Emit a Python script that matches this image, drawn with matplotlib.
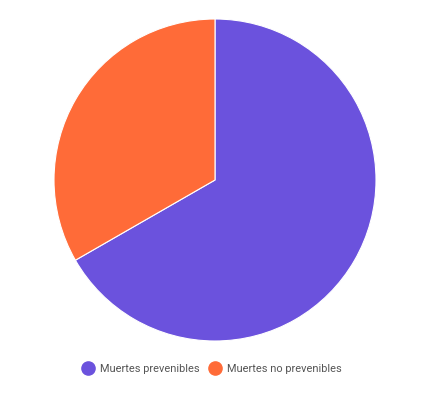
import matplotlib.pyplot as plt
from matplotlib.lines import Line2D

# Datos
labels = ['Muertes prevenibles', 'Muertes no prevenibles']
values = [66.7, 33.3]
colors = ['#6B52DD', '#FF6B38']

plt.rcParams['font.family'] = ['Roboto', 'DejaVu Sans']

fig = plt.figure(figsize=(4.3, 4.0), dpi=100)
ax = fig.add_axes([54 / 430, 59 / 400, 322 / 430, 322 / 400])
ax.pie(values, colors=colors, startangle=90, counterclock=False,
       wedgeprops=dict(edgecolor='white', linewidth=0.8))
ax.set_xlim(-1, 1)
ax.set_ylim(-1, 1)
ax.set_aspect('equal')

# Leyenda
handles = [Line2D([0], [0], marker='o', linestyle='', markersize=9.5,
                  markerfacecolor=c, markeredgecolor=c) for c in colors]
fig.legend(handles, labels, loc='center', bbox_to_anchor=(211 / 430, 1 - 369 / 400),
           ncol=2, frameon=False, fontsize=7.9, labelcolor='#555555',
           handletextpad=0.45, columnspacing=0.75, handlelength=1.3)

fig.savefig('out.png', dpi=100, facecolor='white')
